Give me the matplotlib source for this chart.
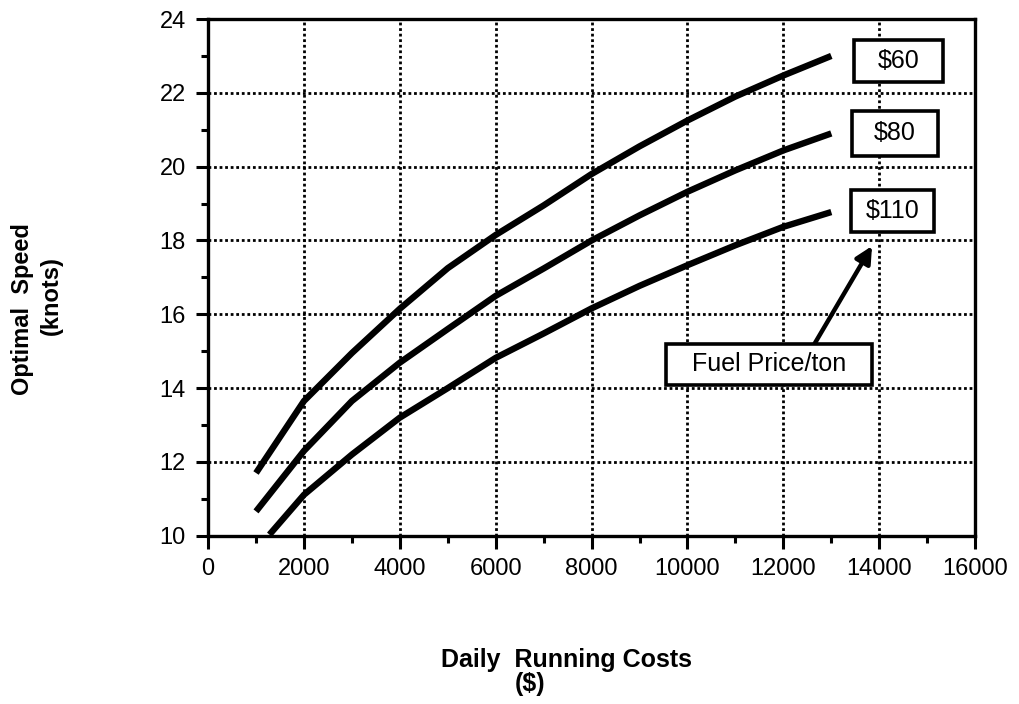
import matplotlib.pyplot as plt
from matplotlib.patches import Rectangle
from matplotlib.ticker import MultipleLocator

plt.rcParams['font.family'] = ['Liberation Sans', 'DejaVu Sans']

# Curves (daily running cost $, optimal speed knots)
cost_60 = [1000, 2000, 3000, 4000, 5000, 6000, 7000, 8000, 9000, 10000, 11000, 12000, 13000]
speed_60 = [11.7, 13.65, 14.95, 16.15, 17.25, 18.15, 18.95, 19.8, 20.55, 21.25, 21.9, 22.47, 23.0]

cost_80 = [1000, 2000, 3000, 4000, 5000, 6000, 7000, 8000, 9000, 10000, 11000, 12000, 13000]
speed_80 = [10.66, 12.3, 13.65, 14.69, 15.6, 16.5, 17.24, 18.0, 18.68, 19.32, 19.9, 20.44, 20.9]

cost_110 = [1280, 2000, 3000, 4000, 5000, 6000, 7000, 8000, 9000, 10000, 11000, 12000, 13000]
speed_110 = [10.03, 11.11, 12.2, 13.2, 14.0, 14.82, 15.48, 16.16, 16.77, 17.33, 17.87, 18.37, 18.77]

price_labels = ["$60", "$80", "$110"]

fig = plt.figure(figsize=(10.2, 7.04), dpi=100)
ax = fig.add_axes([0.204, 0.239, 0.752, 0.734])

for xs, ys in [(cost_60, speed_60), (cost_80, speed_80), (cost_110, speed_110)]:
    ax.plot(xs, ys, color='black', linewidth=4.6, solid_capstyle='butt',
            solid_joinstyle='round', zorder=3)

ax.set_xlim(0, 16000)
ax.set_ylim(10, 24)
ax.xaxis.set_major_locator(MultipleLocator(2000))
ax.xaxis.set_minor_locator(MultipleLocator(1000))
ax.yaxis.set_major_locator(MultipleLocator(2))
ax.yaxis.set_minor_locator(MultipleLocator(1))
ax.grid(True, which='major', color='black', linestyle=(0, (1, 1)), linewidth=2.0)
ax.tick_params(which='major', direction='out', length=9, width=2.2, labelsize=17, pad=7)
ax.tick_params(which='minor', direction='out', length=5, width=2.2)
for s in ax.spines.values():
    s.set_linewidth(2.4)

# price boxes (lower-left corner, width, height in data units)
boxes = [(13466, 22.30, 1858, 1.13), (13424, 20.30, 1796, 1.21), (13403, 18.22, 1733, 1.16)]
for lab, (bx, by, bw, bh) in zip(price_labels, boxes):
    ax.add_patch(Rectangle((bx, by), bw, bh, facecolor='white', edgecolor='black',
                           linewidth=2.6, zorder=5))
    ax.text(bx + bw / 2, by + bh / 2, lab, ha='center', va='center', fontsize=18, zorder=6)

ax.annotate("", xy=(13850, 17.85), xytext=(12650, 15.2),
            arrowprops=dict(arrowstyle='-|>,head_length=1.0,head_width=0.5', color='black',
                            lw=3.2, shrinkA=0, shrinkB=0), zorder=5)
ax.add_patch(Rectangle((9562, 14.08), 4280, 1.11, facecolor='white', edgecolor='black',
                       linewidth=2.6, zorder=5))
ax.text(11700, 14.64, "Fuel Price/ton", ha='center', va='center', fontsize=18, zorder=6)

fig.text(0.022, 0.561, "Optimal  Speed", rotation=90, ha='center', va='center',
         fontsize=17, fontweight='bold')
fig.text(0.050, 0.580, "(knots)", rotation=90, ha='center', va='center',
         fontsize=17, fontweight='bold')
fig.text(0.555, 0.062, "Daily  Running Costs", ha='center', va='center',
         fontsize=18, fontweight='bold')
fig.text(0.52, 0.028, "($)", ha='center', va='center',
         fontsize=18, fontweight='bold')

fig.savefig("out.png", dpi=100)
